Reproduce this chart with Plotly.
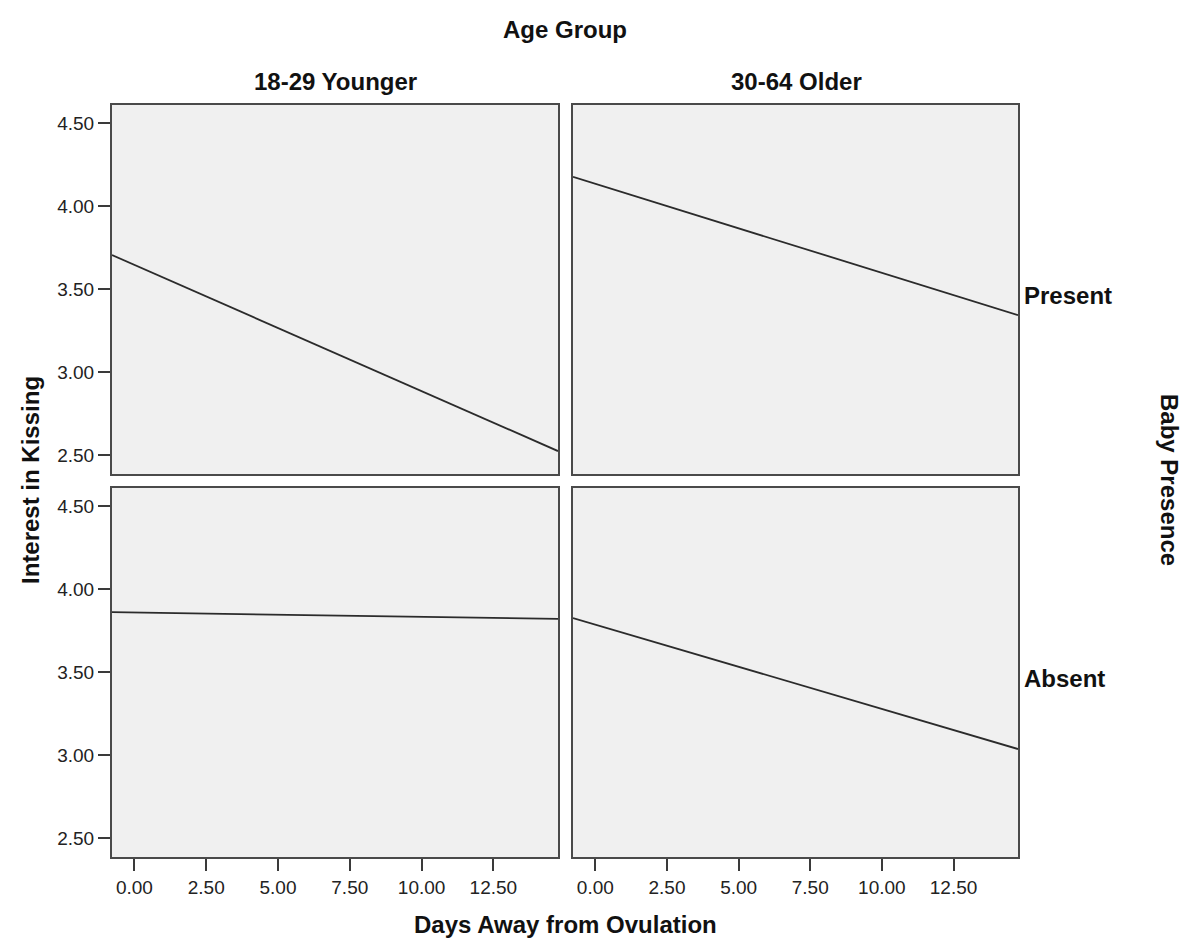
import plotly.graph_objects as go

# Fitted lines: value at the left and right edge of each panel's x range
x_range = [-0.78, 14.75]
age_groups = ["18-29 Younger", "30-64 Older"]
baby_presence = ["Present", "Absent"]

present_younger = [3.705, 2.524]
present_older = [4.175, 3.343]
absent_younger = [3.86, 3.82]
absent_older = [3.825, 3.036]

x_ticks = [0.0, 2.5, 5.0, 7.5, 10.0, 12.5]
y_ticks = [2.5, 3.0, 3.5, 4.0, 4.5]
y_range = [2.386, 4.608]

W, H = 1191, 948
FONT = "Liberation Sans, Arial, sans-serif"


def px_x(a, b):
    return [a / W, b / W]


def px_y(top, bottom):
    return [1 - bottom / H, 1 - top / H]


col_dom = [px_x(112, 558), px_x(573, 1018)]
row_dom = [px_y(105, 474), px_y(488, 857)]

panels = [
    (0, 0, present_younger),
    (0, 1, present_older),
    (1, 0, absent_younger),
    (1, 1, absent_older),
]

fig = go.Figure()
layout = {}
for i, (r, c, vals) in enumerate(panels):
    n = i + 1
    xa = "xaxis" if n == 1 else f"xaxis{n}"
    ya = "yaxis" if n == 1 else f"yaxis{n}"
    xr = "x" if n == 1 else f"x{n}"
    yr = "y" if n == 1 else f"y{n}"
    fig.add_trace(go.Scatter(
        x=x_range, y=vals, mode="lines",
        line=dict(color="#2b2b2b", width=1.8),
        xaxis=xr, yaxis=yr, showlegend=False, hoverinfo="skip",
    ))
    layout[xa] = dict(
        domain=col_dom[c], range=x_range, anchor=yr,
        tickvals=x_ticks, tickformat=".2f",
        showticklabels=(r == 1), ticks="outside" if r == 1 else "",
        ticklen=12, tickwidth=2, tickcolor="#3a3a3a",
        showline=True, mirror=True, linecolor="#4a4a4a", linewidth=2,
        showgrid=False, zeroline=False,
        tickfont=dict(family=FONT, size=19, color="#222"),
    )
    layout[ya] = dict(
        domain=row_dom[r], range=y_range, anchor=xr,
        tickvals=y_ticks, tickformat=".2f",
        showticklabels=(c == 0), ticks="outside" if c == 0 else "",
        ticklen=12, tickwidth=2, tickcolor="#3a3a3a",
        showline=True, mirror=True, linecolor="#4a4a4a", linewidth=2,
        showgrid=False, zeroline=False,
        tickfont=dict(family=FONT, size=19, color="#222"),
    )

bold = dict(family=FONT, size=24, color="#111")
annotations = [
    dict(text="<b>Age Group</b>", x=565 / W, y=1 - 30 / H),
    dict(text=f"<b>{age_groups[0]}</b>", x=335 / W, y=1 - 82 / H),
    dict(text=f"<b>{age_groups[1]}</b>", x=796 / W, y=1 - 82 / H),
    dict(text="<b>Days Away from Ovulation</b>", x=565 / W, y=1 - 924 / H),
    dict(text="<b>Interest in Kissing</b>", x=30 / W, y=1 - 480 / H, textangle=-90),
    dict(text="<b>Baby Presence</b>", x=1170 / W, y=1 - 480 / H, textangle=90),
    dict(text=f"<b>{baby_presence[0]}</b>", x=1022 / W, y=1 - 296 / H, xanchor="left"),
    dict(text=f"<b>{baby_presence[1]}</b>", x=1022 / W, y=1 - 678 / H, xanchor="left"),
]
for a in annotations:
    a.setdefault("xanchor", "center")
    a.update(xref="paper", yref="paper", yanchor="middle", showarrow=False, font=bold)

fig.update_layout(
    width=W, height=H,
    margin=dict(l=0, r=0, t=0, b=0),
    paper_bgcolor="white",
    plot_bgcolor="#f0f0f0",
    annotations=annotations,
    **layout,
)

fig.write_html("out.html")
